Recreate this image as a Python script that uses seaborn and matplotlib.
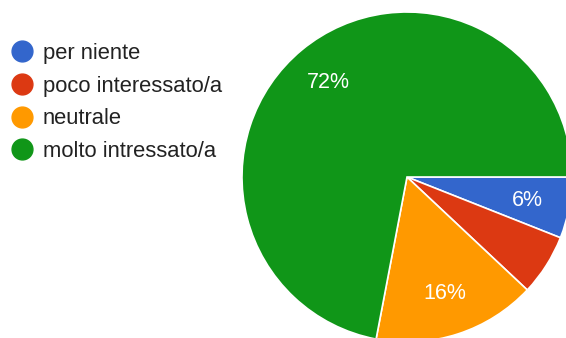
import matplotlib
matplotlib.use("Agg")
import matplotlib.pyplot as plt
from matplotlib.lines import Line2D
import seaborn as sns

# Survey answers (share of respondents, %)
categories = ["per niente", "poco interessato/a", "neutrale", "molto intressato/a"]
shares = [6, 6, 16, 72]
colors = ["#3366cc", "#dc3912", "#ff9900", "#109618"]
show_label = [True, False, True, True]

sns.set_theme(style="white")
plt.rcParams["font.family"] = ["Liberation Sans", "DejaVu Sans"]

W, H = 566, 338
fig = plt.figure(figsize=(W / 100, H / 100), dpi=100)
fig.patch.set_facecolor("white")

# square axes holding the pie, centred at (407, 177) px with radius 165 px
cx, cy, r = 407, 177, 165
ax = fig.add_axes([(cx - r) / W, (H - cy - r) / H, 2 * r / W, 2 * r / H])

palette = sns.color_palette(colors)
wedges, texts, autotexts = ax.pie(
    shares,
    colors=palette,
    startangle=0,
    counterclock=False,
    autopct=lambda p: f"{p:.0f}%",
    pctdistance=0.745,
    wedgeprops=dict(edgecolor="white", linewidth=1.2),
    textprops=dict(color="white", fontsize=15.5),
)
for t, show in zip(autotexts, show_label):
    t.set_visible(show)
ax.set_xlim(-1, 1)
ax.set_ylim(-1, 1)
ax.set_aspect("equal")
ax.axis("off")

handles = [
    Line2D([], [], marker="o", linestyle="none", markersize=15,
           markerfacecolor=c, markeredgecolor=c)
    for c in palette
]
leg = fig.legend(
    handles, categories,
    loc="upper left",
    bbox_to_anchor=(11 / W, 1 - 43 / H),
    frameon=False,
    fontsize=15.8,
    handlelength=1.0,
    handletextpad=0.45,
    labelspacing=0.53,
    borderaxespad=0,
    borderpad=0.0,
)
for t in leg.get_texts():
    t.set_color("#222222")

fig.savefig("out.png", dpi=100, facecolor="white")
